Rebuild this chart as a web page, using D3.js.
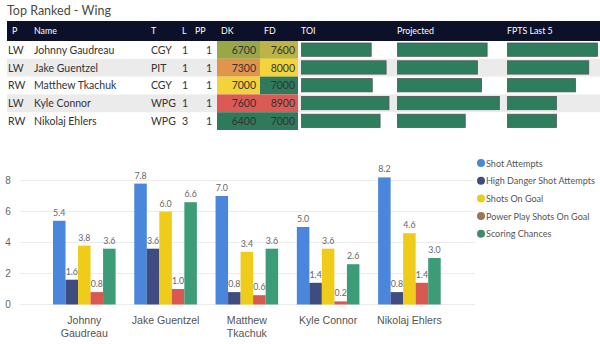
<!DOCTYPE html>
<html><head><meta charset="utf-8">
<script src="https://cdn.jsdelivr.net/npm/d3@7"></script>
<style>
html,body{margin:0;padding:0;background:#fff;}
svg{display:block;font-family:Lato,"Noto Sans",sans-serif;}
</style></head>
<body>
<svg id="c" width="600" height="344"></svg>
<script>
// ---- Data ----
const title = "Top Ranked - Wing";
const positions = ["LW","LW","RW","LW","RW"];
const players = ["Johnny Gaudreau","Jake Guentzel","Matthew Tkachuk","Kyle Connor","Nikolaj Ehlers"];
const teams = ["CGY","PIT","CGY","WPG","WPG"];
const lines = [1,1,1,1,3];
const ppUnits = [1,1,1,1,1];
const dkSalary = [6700,7300,7000,7600,6400];
const fdSalary = [7600,8000,7000,8900,7000];
const toi = [19.6,23.8,19.9,24.6,22.1];
const projected = [17.6,15.7,16.5,20.0,13.3];
const fptsLast5 = [18.4,16.6,13.9,10.0,10.0];

const seriesNames = ["Shot Attempts","High Danger Shot Attempts","Shots On Goal","Power Play Shots On Goal","Scoring Chances"];
const shotAttempts = [5.4,7.8,7.0,5.0,8.2];
const highDanger = [1.6,3.6,0.8,1.4,0.8];
const shotsOnGoal = [3.8,6.0,3.4,3.6,4.6];
const ppShotsOnGoal = [0.8,1.0,0.6,0.2,1.4];
const scoringChances = [3.6,6.6,3.6,2.6,3.0];
const yTicks = [0,2,4,6,8];

// ---- Styles ----
const barColors = ["#4a86dc","#3e4c80","#efcb1a","#d9584f","#3c9c78"];
const legendColors = ["#4a86dc","#3e4c80","#e2d21c","#9a7556","#3f8c6c"];
const dkColors = {6400:"#2f7a5b",6700:"#98a848",7000:"#f2d43a",7300:"#e0954b",7600:"#dc5a56"};
const fdColors = {7000:"#2f7a5b",7600:"#bdb346",8000:"#f3d53a",8900:"#dc5a56"};

const svg = d3.select("#c");

// Title
svg.append("text").attr("x",7).attr("y",15).attr("font-size",12.5).attr("fill","#4a4a4a").text(title);

// ---- Table ----
const tableX = 7, headerY = 21, headerH = 20, rowH = 17.8;
svg.append("rect").attr("x",tableX).attr("y",headerY).attr("width",600-tableX).attr("height",headerH).attr("fill","#0c1028");
const headers = [["P",12],["Name",34],["T",151],["L",182],["PP",195],["DK",221],["FD",264],["TOI",301],["Projected",397],["FPTS Last 5",507]];
svg.selectAll("text.hdr").data(headers).join("text").attr("class","hdr")
  .attr("x",d=>d[1]).attr("y",headerY+13).attr("font-size",8.8).attr("fill","#fff").text(d=>d[0]);

const rowIdx = d3.range(players.length);
const rowY = i => headerY + headerH + i*rowH;
svg.selectAll("rect.rowbg").data(rowIdx.filter(i=>i%2===1)).join("rect").attr("class","rowbg")
  .attr("x",tableX).attr("y",i=>rowY(i)).attr("width",600-tableX).attr("height",rowH).attr("fill","#ebebeb");

// salary cells
const dkX0 = 217, dkX1 = 260, fdX1 = 298;
svg.selectAll("rect.dk").data(rowIdx).join("rect").attr("x",dkX0).attr("y",i=>rowY(i)).attr("width",dkX1-dkX0).attr("height",rowH).attr("fill",i=>dkColors[dkSalary[i]]);
svg.selectAll("rect.fd").data(rowIdx).join("rect").attr("x",dkX1).attr("y",i=>rowY(i)).attr("width",fdX1-dkX1).attr("height",rowH).attr("fill",i=>fdColors[fdSalary[i]]);

const rowText = (arr, x, anchor, cls) => svg.selectAll("text."+cls).data(rowIdx).join("text").attr("class",cls)
  .attr("x",x).attr("y",i=>rowY(i)+12.8).attr("font-size",10.5).attr("fill","#333").attr("text-anchor",anchor).text(i=>arr[i]);
rowText(positions,8,"start","pos");
rowText(players,34,"start","nm");
rowText(teams,151,"start","tm");
rowText(lines,182,"start","ln");
rowText(ppUnits,212,"end","pp");
rowText(dkSalary,256,"end","dks");
rowText(fdSalary,295,"end","fds");

// data bars
const barCols = [
  {vals:toi, x0:301, w:96, max:27},
  {vals:projected, x0:397, w:110, max:21.6},
  {vals:fptsLast5, x0:507, w:93, max:19}
];
barCols.forEach((c,ci)=>{
  const s = d3.scaleLinear().domain([0,c.max]).range([0,c.w]);
  svg.selectAll("rect.db"+ci).data(rowIdx).join("rect").attr("class","db"+ci)
    .attr("x",c.x0+0.5).attr("y",i=>rowY(i)+2).attr("width",i=>s(c.vals[i])).attr("height",rowH-4.5)
    .attr("fill","#2e7d5d").attr("stroke","#4d5a55").attr("stroke-width",0.8);
});

// ---- Bar chart ----
const series = [shotAttempts,highDanger,shotsOnGoal,ppShotsOnGoal,scoringChances];
const y = d3.scaleLinear().domain([0,8]).range([304.5,180.5]);
const x0 = d3.scaleBand().domain(players).range([53,440.7]).paddingInner(0.23).paddingOuter(0);
const x1 = d3.scaleBand().domain(d3.range(series.length)).range([0,x0.bandwidth()]);

const g = svg.append("g");
g.selectAll("line.grid").data(yTicks).join("line").attr("x1",20).attr("x2",475)
  .attr("y1",d=>y(d)).attr("y2",d=>y(d)).attr("stroke","#ececec").attr("stroke-width",1);
const yAxis = g.append("g").attr("transform","translate(16,0)")
  .call(d3.axisLeft(y).tickValues(yTicks).tickSize(0).tickPadding(0).tickFormat(d3.format("d")));
yAxis.select(".domain").remove();
yAxis.selectAll("text").attr("font-size",10).attr("fill","#666").attr("font-family",null).attr("text-anchor","middle").attr("x",-8);

const groups = g.selectAll("g.grp").data(players).join("g").attr("class","grp")
  .attr("transform",d=>`translate(${x0(d)},0)`);
groups.each(function(p,pi){
  const gg = d3.select(this);
  series.forEach((arr,si)=>{
    gg.append("rect").attr("x",x1(si)).attr("y",y(arr[pi])).attr("width",x1.bandwidth())
      .attr("height",y(0)-y(arr[pi])).attr("fill",barColors[si]);
    gg.append("text").attr("x",x1(si)+x1.bandwidth()/2).attr("y",y(arr[pi])-5)
      .attr("text-anchor","middle").attr("font-size",8.8).attr("fill","#666").text(d3.format(".1f")(arr[pi]));
  });
});

// x labels with wrap
const xl = g.append("g").attr("transform",`translate(0,${y(0)})`)
  .call(d3.axisBottom(x0).tickSize(0).tickPadding(0));
xl.select(".domain").remove();
xl.selectAll("text").attr("font-size",10.6).attr("fill","#555").attr("font-family",null).attr("dy",null).attr("y",null)
  .each(function(t){
    const el = d3.select(this);
    el.text(null);
    const words = t.split(" ");
    const probe = svg.append("text").attr("font-size",10.6).text(t);
    const w = probe.node().getComputedTextLength(); probe.remove();
    const linesArr = w > 70 ? words : [t];
    linesArr.forEach((ln,k)=>el.append("tspan").attr("x",0).attr("y",19.5+k*13).text(ln));
  });

// legend (font fitted so the longest entry spans ~109px like the reference)
const probeL = svg.append("text").attr("font-size",10).text(d3.greatest(seriesNames,d=>d.length));
const lw = probeL.node().getComputedTextLength(); probeL.remove();
const legendFont = Math.min(10.5, 10*109/lw);
const lg = svg.append("g").attr("transform","translate(481,163)");
const li = lg.selectAll("g").data(seriesNames).join("g").attr("transform",(d,i)=>`translate(0,${i*17.7})`);
li.append("circle").attr("r",4).attr("fill",(d,i)=>legendColors[i]);
li.append("text").attr("x",5).attr("y",3.5).attr("font-size",legendFont).attr("fill","#555").text(d=>d);
</script>
</body></html>
